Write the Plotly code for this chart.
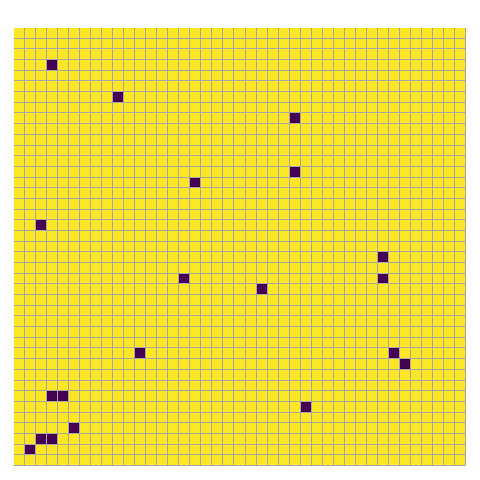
import numpy as np
import plotly.graph_objects as go

n_rows = 41
n_cols = 41
# dark cells (row index from top, column index from left)
dark_rows = [3, 6, 8, 13, 14, 18, 21, 23, 23, 24, 30, 30, 31, 34, 34, 35, 37, 38, 38, 39]
dark_cols = [3, 9, 25, 25, 16, 2, 33, 33, 15, 22, 11, 34, 35, 3, 4, 26, 5, 2, 3, 1]

z = np.ones((n_rows, n_cols))
for r, c in zip(dark_rows, dark_cols):
    z[r, c] = 0

fig = go.Figure(go.Heatmap(
    z=z,
    colorscale="Viridis",
    zmin=0, zmax=1,
    showscale=False,
    xgap=1, ygap=1,
    hoverinfo="skip",
))
fig.update_layout(
    width=480, height=480,
    margin=dict(l=6, r=22, t=20, b=22),
    plot_bgcolor="#a6a6a6",
    paper_bgcolor="white",
)
fig.update_xaxes(visible=False, range=[-0.5, n_cols - 0.5])
fig.update_yaxes(visible=False, range=[n_rows - 0.5, -0.5])
fig.write_html("out.html")
